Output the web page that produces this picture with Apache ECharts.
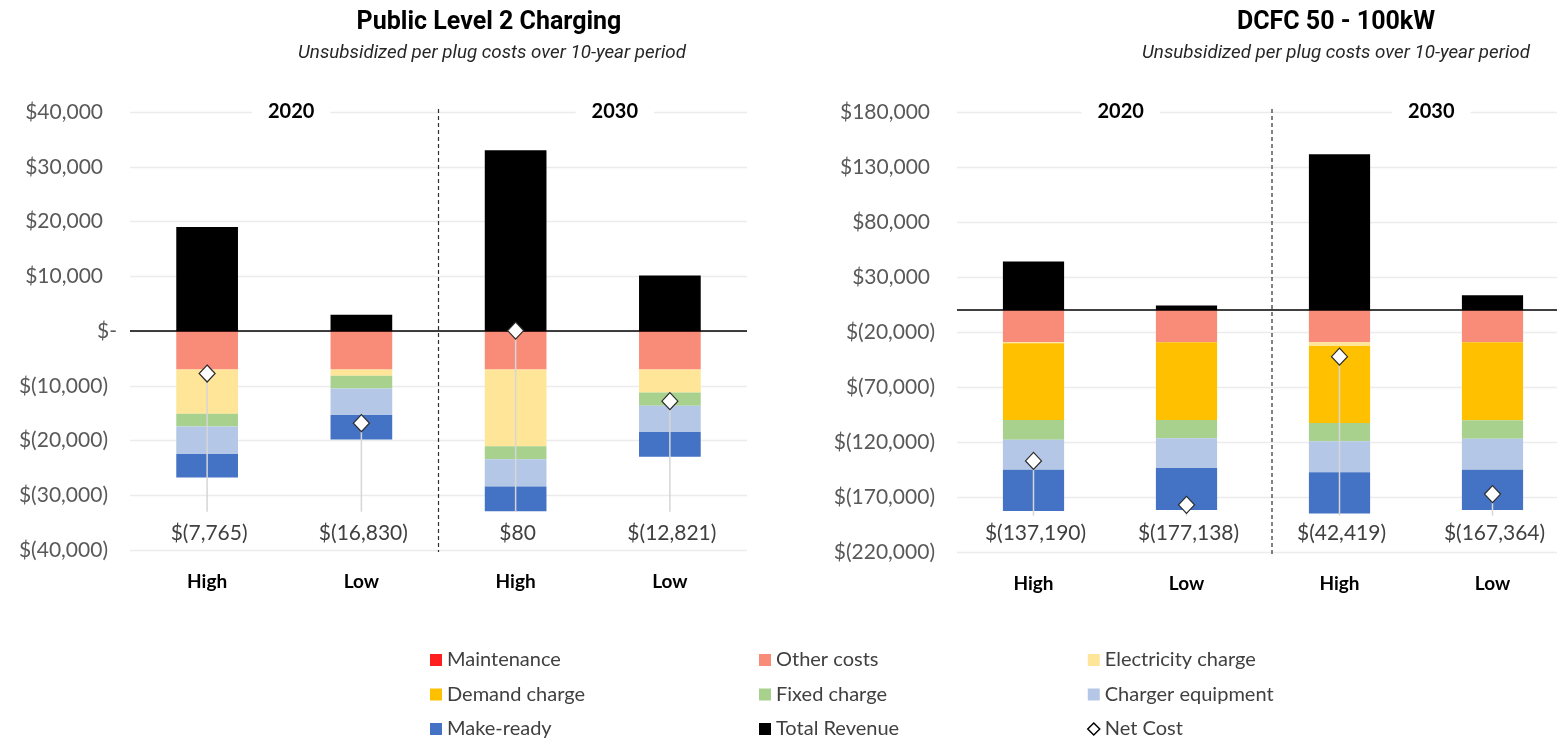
<!DOCTYPE html>
<html><head><meta charset="utf-8">
<script src="https://cdn.jsdelivr.net/npm/echarts@6/dist/echarts.min.js"></script>
<style>html,body{margin:0;padding:0;background:#fff}#c{width:1557px;height:743px}</style>
</head><body><div id="c"></div>
<script>
// ---------- DATA ----------
const categories = ['High', 'Low', 'High', 'Low'];
const yearLabels = ['2020', '2030'];

// Public Level 2 Charging (per plug, 10 years)
const l2Maintenance = [-150, -150, -150, -150];
const l2OtherCosts = [-6870, -6870, -6870, -6870];
const l2Electricity = [-8110, -1160, -14030, -4210];
const l2Demand = [0, 0, 0, 0];
const l2Fixed = [-2320, -2320, -2380, -2440];
const l2Charger = [-5000, -4820, -4950, -4760];
const l2MakeReady = [-4295, -4500, -4555, -4521];
const l2Revenue = [18980, 2990, 33015, 10130];
const l2NetCost = [-7765, -16830, 80, -12821];
const l2Ticks = [-40000, -30000, -20000, -10000, 0, 10000, 20000, 30000, 40000];

// DCFC 50 - 100kW
const dcMaintenance = [-400, -400, -400, -400];
const dcOtherCosts = [-29000, -29000, -29000, -29000];
const dcElectricity = [-900, 0, -3300, 0];
const dcDemand = [-69700, -70600, -70000, -70900];
const dcFixed = [-17900, -16700, -16700, -16700];
const dcCharger = [-27300, -27000, -28200, -28200];
const dcMakeReady = [-37500, -38200, -37500, -36700];
const dcRevenue = [44000, 4000, 141500, 13300];
const dcNetCost = [-137190, -177138, -42419, -167364];
const dcTicks = [-220000, -170000, -120000, -70000, -20000, 30000, 80000, 130000, 180000];

// ---------- STYLE ----------
const colors = {
  'Maintenance': '#ff1f1f', 'Other costs': '#f98c78', 'Electricity charge': '#ffe597',
  'Demand charge': '#ffc000', 'Fixed charge': '#a9d18e', 'Charger equipment': '#b4c7e7',
  'Make-ready': '#4472c4', 'Total Revenue': '#000000'
};
const FONT = 'Lato, "Noto Sans", sans-serif';
const TFONT = 'Roboto, "Noto Sans", sans-serif';

function money(v) {
  const a = Math.abs(v).toLocaleString('en-US');
  return v < 0 ? '$(' + a + ')' : '$' + a;
}
function axisFmt(v) {
  if (v === 0) return '{z|$-}';
  return v < 0 ? '{n|' + money(v) + '}' : '{p|' + money(v) + '}';
}
const tokenBase = { fontFamily: FONT, fontSize: 21, color: '#595959' };

function yAxisFor(gi, min, max, ticks, useInterval) {
  const ax = {
    type: 'value', gridIndex: gi, min: min, max: max,
    axisLine: { show: false }, axisTick: { show: false },
    splitLine: { show: true, lineStyle: { color: '#ececec', width: 1.4 } },
    axisLabel: {
      margin: 13, formatter: axisFmt, fontFamily: FONT, fontSize: 21, color: '#595959',
      rich: {
        p: Object.assign({ padding: [0, 14, 0, 0] }, tokenBase),
        n: Object.assign({ padding: [0, 9, 0, 0] }, tokenBase),
        z: Object.assign({}, tokenBase)
      }
    }
  };
  if (useInterval) ax.interval = ticks[1] - ticks[0];
  else {
    ax.axisLabel.customValues = ticks;
    ax.axisTick.customValues = ticks;
  }
  return ax;
}
function xAxisFor(gi) {
  return {
    type: 'category', gridIndex: gi, data: categories,
    axisLine: { show: false, onZero: false }, axisTick: { show: false },
    axisLabel: { margin: 22, fontFamily: FONT, fontSize: 19, fontWeight: 'bold', color: '#000' }
  };
}

function barSeries(gi, name, data, withZero) {
  const s = {
    type: 'bar', name: name, xAxisIndex: gi, yAxisIndex: gi, stack: 'g' + gi,
    data: data, barWidth: '40%', itemStyle: { color: colors[name] },
    emphasis: { disabled: true }
  };
  if (withZero) {
    s.markLine = {
      silent: true, symbol: 'none', label: { show: false },
      lineStyle: { color: '#000', width: 1.5, type: 'solid' },
      data: [{ yAxis: 0 }], z: 5
    };
  }
  return s;
}

function netSeries(gi, net, leaderEnd, labelVal) {
  return {
    type: 'custom', name: 'Net Cost', xAxisIndex: gi, yAxisIndex: gi, z: 10,
    data: net.map((v, i) => [i, v]),
    renderItem: function (params, api) {
      const i = api.value(0), v = api.value(1);
      const p = api.coord([i, v]);
      const e = api.coord([i, leaderEnd]);
      const t = api.coord([i, labelVal]);
      return {
        type: 'group', children: [
          { type: 'line', shape: { x1: p[0], y1: p[1], x2: e[0], y2: e[1] }, style: { stroke: '#d6d6d6', lineWidth: 1.5 } },
          { type: 'polygon', shape: { points: [[p[0], p[1] - 8.5], [p[0] + 8, p[1]], [p[0], p[1] + 8.5], [p[0] - 8, p[1]]] },
            style: { fill: '#ffffff', stroke: '#2b2b2b', lineWidth: 1.2 } },
          { type: 'text', x: t[0] + 2, y: t[1], style: { text: money(v), fontFamily: FONT, fontSize: 21, fill: '#404040', align: 'center', verticalAlign: 'middle' } }
        ]
      };
    }
  };
}

function chartSeries(gi, d) {
  return [
    barSeries(gi, 'Maintenance', d.m),
    barSeries(gi, 'Other costs', d.o),
    barSeries(gi, 'Electricity charge', d.e),
    barSeries(gi, 'Demand charge', d.d),
    barSeries(gi, 'Fixed charge', d.f),
    barSeries(gi, 'Charger equipment', d.c),
    barSeries(gi, 'Make-ready', d.mr),
    barSeries(gi, 'Total Revenue', d.r, true),
    netSeries(gi, d.net, d.leaderEnd, d.labelVal)
  ];
}

const series = [].concat(
  chartSeries(0, { m: l2Maintenance, o: l2OtherCosts, e: l2Electricity, d: l2Demand, f: l2Fixed, c: l2Charger, mr: l2MakeReady, r: l2Revenue, net: l2NetCost, leaderEnd: -33000, labelVal: -37000 }),
  chartSeries(1, { m: dcMaintenance, o: dcOtherCosts, e: dcElectricity, d: dcDemand, f: dcFixed, c: dcCharger, mr: dcMakeReady, r: dcRevenue, net: dcNetCost, leaderEnd: -187000, labelVal: -203000 })
);

const legendText = { fontFamily: FONT, fontSize: 20, color: '#404040', lineHeight: 20 };
function legendCol(items, left) {
  return {
    orient: 'vertical', left: left, top: 650, height: 93, padding: 0,
    itemWidth: 12, itemHeight: 12, itemGap: 14.5,
    icon: 'rect', textStyle: legendText, selectedMode: false,
    data: items
  };
}

const titleText = (x, y, t, bold) => ({
  type: 'text', x: x, y: y, silent: true,
  style: bold
    ? { text: t, fontFamily: TFONT, fontSize: 25, fontWeight: 'bold', fill: '#000', align: 'center', verticalAlign: 'middle' }
    : { text: t, fontFamily: TFONT, fontSize: 18.8, fontStyle: 'italic', fill: '#262626', align: 'center', verticalAlign: 'middle' }
});
const yearText = (x, y, t) => ({
  type: 'text', x: x, y: y, z: 50, silent: true,
  style: { text: t, fontFamily: FONT, fontSize: 20, fontWeight: 'bold', fill: '#000', align: 'center', verticalAlign: 'middle',
           backgroundColor: '#fff', padding: [4, 16] }
});

const option = {
  backgroundColor: '#fff',
  animation: false,
  grid: [
    { left: 130, right: 810, top: 112, bottom: 193, containLabel: false, outerBoundsMode: 'none' },
    { left: 957, right: -12, top: 112, bottom: 191, containLabel: false, outerBoundsMode: 'none' }
  ],
  xAxis: [xAxisFor(0), xAxisFor(1)],
  yAxis: [yAxisFor(0, -40000, 40000, l2Ticks, true), yAxisFor(1, -220000, 180000, dcTicks, false)],
  legend: [
    legendCol(['Maintenance', 'Demand charge', 'Make-ready'], 430),
    legendCol(['Other costs', 'Fixed charge', 'Total Revenue'], 759),
    legendCol(['Electricity charge', 'Charger equipment',
      { name: 'Net Cost', icon: 'diamond', itemStyle: { color: '#fff', borderColor: '#000', borderWidth: 1.5 } }], 1087)
  ],
  series: series,
  graphic: [
    titleText(489, 23, 'Public Level 2 Charging', true),
    titleText(492, 53, 'Unsubsidized per plug costs over 10-year period', false),
    titleText(1336, 23, 'DCFC 50 - 100kW', true),
    titleText(1336, 53, 'Unsubsidized per plug costs over 10-year period', false)
  ]
};

const chart = echarts.init(document.getElementById('c'), null, { renderer: 'canvas' });
chart.setOption(option);

// separators and year headers placed from the axes
function addDecor() {
  const g = [];
  const specs = [
    { gi: 0, top: l2Ticks[l2Ticks.length - 1], bot: l2Ticks[0], off: 0, yearPos: [0.545, 0.643] },
    { gi: 1, top: dcTicks[dcTicks.length - 1], bot: dcTicks[0], off: 9, yearPos: [0.57, 0.60] }
  ];
  specs.forEach(s => {
    const c0 = chart.convertToPixel({ xAxisIndex: s.gi }, 0);
    const c1 = chart.convertToPixel({ xAxisIndex: s.gi }, 1);
    const c2 = chart.convertToPixel({ xAxisIndex: s.gi }, 2);
    const c3 = chart.convertToPixel({ xAxisIndex: s.gi }, 3);
    const yT = chart.convertToPixel({ yAxisIndex: s.gi }, s.top);
    const yB = chart.convertToPixel({ yAxisIndex: s.gi }, s.bot);
    const mid = (c1 + c2) / 2 + s.off;
    g.push({ type: 'line', silent: true, z: 40, shape: { x1: mid, y1: yT - 3, x2: mid, y2: yB + 2 },
      style: { stroke: '#303030', lineWidth: 1.2, lineDash: [4, 3] } });
    g.push(yearText(c0 + (c1 - c0) * s.yearPos[0], yT, yearLabels[0]));
    g.push(yearText(c2 + (c3 - c2) * s.yearPos[1], yT, yearLabels[1]));
  });
  chart.setOption({ graphic: option.graphic.concat(g) });
}
addDecor();
</script>
</body></html>
